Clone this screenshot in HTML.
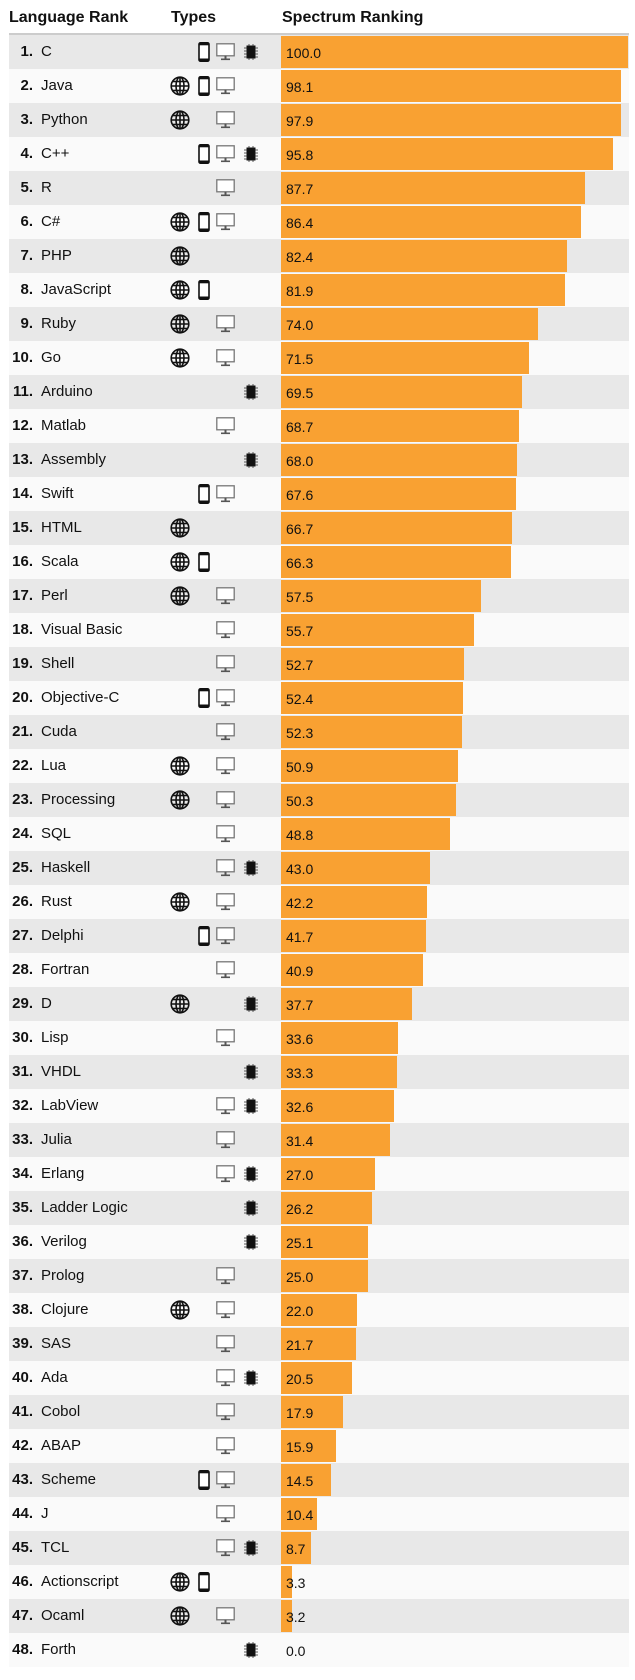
<!DOCTYPE html>
<html><head><meta charset="utf-8"><style>
body{margin:0;width:635px;height:1680px;background:#fff;font-family:"Liberation Sans",Arial,sans-serif;position:relative;overflow:hidden}
.h{position:absolute;top:9px;font-weight:bold;font-size:16px;color:#111}
.hl{position:absolute;left:9px;top:33px;width:620px;height:2px;background:#ccc}
#t{position:absolute;left:9px;top:35px;width:620px}
.r{position:relative;height:34px;background:#fafafa;font-size:15px;color:#111;line-height:34px}
.r:nth-child(odd){background:#e8e8e8}
.r b{position:absolute;right:596px;top:0}
.n{position:absolute;left:32px;top:0}
.bar{position:absolute;left:272px;top:1px;height:32px;background:#f9a132}
.v{position:absolute;left:277px;top:1px;font-size:14px}
svg.i{position:absolute}
.g{left:161px;top:7px}.p{left:189px;top:7px}.d{left:207px;top:8px}.c{left:235px;top:9px}
</style></head><body>
<svg width="0" height="0" style="position:absolute"><defs>
<symbol id="G" viewBox="0 0 20 20"><g fill="none" stroke="#111" stroke-width="1.6"><circle cx="10" cy="10" r="8.8"/><ellipse cx="10" cy="10" rx="4" ry="8.8"/><line x1="10" y1="1" x2="10" y2="19"/><line x1="1" y1="10" x2="19" y2="10"/><line x1="2.5" y1="5.5" x2="17.5" y2="5.5"/><line x1="2.5" y1="14.5" x2="17.5" y2="14.5"/></g></symbol>
<symbol id="P" viewBox="0 0 12 20"><rect x="1" y="0.8" width="10" height="18.4" rx="1.5" fill="#fff" stroke="#111" stroke-width="1.6"/><rect x="1" y="0.8" width="10" height="2.5" fill="#111"/><rect x="1" y="16.5" width="10" height="2.7" fill="#111"/></symbol>
<symbol id="D" viewBox="0 0 19 18"><rect x="0.8" y="0.8" width="17.4" height="12" fill="#fff" stroke="#777" stroke-width="1.3"/><rect x="8.5" y="12.8" width="2" height="3" fill="#555"/><rect x="5" y="15.5" width="9" height="1.6" fill="#555"/></symbol>
<symbol id="C" viewBox="0 0 14 16"><rect x="2.5" y="1.5" width="9" height="13" fill="#111"/><g stroke="#333" stroke-width="0.8"><line x1="0" y1="4" x2="14" y2="4"/><line x1="0" y1="7" x2="14" y2="7"/><line x1="0" y1="10" x2="14" y2="10"/><line x1="0" y1="13" x2="14" y2="13"/><line x1="5" y1="0" x2="5" y2="16"/><line x1="9" y1="0" x2="9" y2="16"/></g><rect x="3.3" y="2.3" width="7.4" height="11.4" fill="#111"/></symbol>
</defs></svg>
<div class="h" style="left:9px">Language Rank</div>
<div class="h" style="left:171px">Types</div>
<div class="h" style="left:282px">Spectrum Ranking</div>
<div class="hl"></div>
<div id="t">
<div class="r"><b>1.</b><span class="n">C</span><svg class="i p" width="12" height="20"><use href="#P"/></svg><svg class="i d" width="19" height="18"><use href="#D"/></svg><svg class="i c" width="14" height="16"><use href="#C"/></svg><i class="bar" style="width:347px"></i><span class="v">100.0</span></div>
<div class="r"><b>2.</b><span class="n">Java</span><svg class="i g" width="20" height="20"><use href="#G"/></svg><svg class="i p" width="12" height="20"><use href="#P"/></svg><svg class="i d" width="19" height="18"><use href="#D"/></svg><i class="bar" style="width:340px"></i><span class="v">98.1</span></div>
<div class="r"><b>3.</b><span class="n">Python</span><svg class="i g" width="20" height="20"><use href="#G"/></svg><svg class="i d" width="19" height="18"><use href="#D"/></svg><i class="bar" style="width:340px"></i><span class="v">97.9</span></div>
<div class="r"><b>4.</b><span class="n">C++</span><svg class="i p" width="12" height="20"><use href="#P"/></svg><svg class="i d" width="19" height="18"><use href="#D"/></svg><svg class="i c" width="14" height="16"><use href="#C"/></svg><i class="bar" style="width:332px"></i><span class="v">95.8</span></div>
<div class="r"><b>5.</b><span class="n">R</span><svg class="i d" width="19" height="18"><use href="#D"/></svg><i class="bar" style="width:304px"></i><span class="v">87.7</span></div>
<div class="r"><b>6.</b><span class="n">C#</span><svg class="i g" width="20" height="20"><use href="#G"/></svg><svg class="i p" width="12" height="20"><use href="#P"/></svg><svg class="i d" width="19" height="18"><use href="#D"/></svg><i class="bar" style="width:300px"></i><span class="v">86.4</span></div>
<div class="r"><b>7.</b><span class="n">PHP</span><svg class="i g" width="20" height="20"><use href="#G"/></svg><i class="bar" style="width:286px"></i><span class="v">82.4</span></div>
<div class="r"><b>8.</b><span class="n">JavaScript</span><svg class="i g" width="20" height="20"><use href="#G"/></svg><svg class="i p" width="12" height="20"><use href="#P"/></svg><i class="bar" style="width:284px"></i><span class="v">81.9</span></div>
<div class="r"><b>9.</b><span class="n">Ruby</span><svg class="i g" width="20" height="20"><use href="#G"/></svg><svg class="i d" width="19" height="18"><use href="#D"/></svg><i class="bar" style="width:257px"></i><span class="v">74.0</span></div>
<div class="r"><b>10.</b><span class="n">Go</span><svg class="i g" width="20" height="20"><use href="#G"/></svg><svg class="i d" width="19" height="18"><use href="#D"/></svg><i class="bar" style="width:248px"></i><span class="v">71.5</span></div>
<div class="r"><b>11.</b><span class="n">Arduino</span><svg class="i c" width="14" height="16"><use href="#C"/></svg><i class="bar" style="width:241px"></i><span class="v">69.5</span></div>
<div class="r"><b>12.</b><span class="n">Matlab</span><svg class="i d" width="19" height="18"><use href="#D"/></svg><i class="bar" style="width:238px"></i><span class="v">68.7</span></div>
<div class="r"><b>13.</b><span class="n">Assembly</span><svg class="i c" width="14" height="16"><use href="#C"/></svg><i class="bar" style="width:236px"></i><span class="v">68.0</span></div>
<div class="r"><b>14.</b><span class="n">Swift</span><svg class="i p" width="12" height="20"><use href="#P"/></svg><svg class="i d" width="19" height="18"><use href="#D"/></svg><i class="bar" style="width:235px"></i><span class="v">67.6</span></div>
<div class="r"><b>15.</b><span class="n">HTML</span><svg class="i g" width="20" height="20"><use href="#G"/></svg><i class="bar" style="width:231px"></i><span class="v">66.7</span></div>
<div class="r"><b>16.</b><span class="n">Scala</span><svg class="i g" width="20" height="20"><use href="#G"/></svg><svg class="i p" width="12" height="20"><use href="#P"/></svg><i class="bar" style="width:230px"></i><span class="v">66.3</span></div>
<div class="r"><b>17.</b><span class="n">Perl</span><svg class="i g" width="20" height="20"><use href="#G"/></svg><svg class="i d" width="19" height="18"><use href="#D"/></svg><i class="bar" style="width:200px"></i><span class="v">57.5</span></div>
<div class="r"><b>18.</b><span class="n">Visual Basic</span><svg class="i d" width="19" height="18"><use href="#D"/></svg><i class="bar" style="width:193px"></i><span class="v">55.7</span></div>
<div class="r"><b>19.</b><span class="n">Shell</span><svg class="i d" width="19" height="18"><use href="#D"/></svg><i class="bar" style="width:183px"></i><span class="v">52.7</span></div>
<div class="r"><b>20.</b><span class="n">Objective-C</span><svg class="i p" width="12" height="20"><use href="#P"/></svg><svg class="i d" width="19" height="18"><use href="#D"/></svg><i class="bar" style="width:182px"></i><span class="v">52.4</span></div>
<div class="r"><b>21.</b><span class="n">Cuda</span><svg class="i d" width="19" height="18"><use href="#D"/></svg><i class="bar" style="width:181px"></i><span class="v">52.3</span></div>
<div class="r"><b>22.</b><span class="n">Lua</span><svg class="i g" width="20" height="20"><use href="#G"/></svg><svg class="i d" width="19" height="18"><use href="#D"/></svg><i class="bar" style="width:177px"></i><span class="v">50.9</span></div>
<div class="r"><b>23.</b><span class="n">Processing</span><svg class="i g" width="20" height="20"><use href="#G"/></svg><svg class="i d" width="19" height="18"><use href="#D"/></svg><i class="bar" style="width:175px"></i><span class="v">50.3</span></div>
<div class="r"><b>24.</b><span class="n">SQL</span><svg class="i d" width="19" height="18"><use href="#D"/></svg><i class="bar" style="width:169px"></i><span class="v">48.8</span></div>
<div class="r"><b>25.</b><span class="n">Haskell</span><svg class="i d" width="19" height="18"><use href="#D"/></svg><svg class="i c" width="14" height="16"><use href="#C"/></svg><i class="bar" style="width:149px"></i><span class="v">43.0</span></div>
<div class="r"><b>26.</b><span class="n">Rust</span><svg class="i g" width="20" height="20"><use href="#G"/></svg><svg class="i d" width="19" height="18"><use href="#D"/></svg><i class="bar" style="width:146px"></i><span class="v">42.2</span></div>
<div class="r"><b>27.</b><span class="n">Delphi</span><svg class="i p" width="12" height="20"><use href="#P"/></svg><svg class="i d" width="19" height="18"><use href="#D"/></svg><i class="bar" style="width:145px"></i><span class="v">41.7</span></div>
<div class="r"><b>28.</b><span class="n">Fortran</span><svg class="i d" width="19" height="18"><use href="#D"/></svg><i class="bar" style="width:142px"></i><span class="v">40.9</span></div>
<div class="r"><b>29.</b><span class="n">D</span><svg class="i g" width="20" height="20"><use href="#G"/></svg><svg class="i c" width="14" height="16"><use href="#C"/></svg><i class="bar" style="width:131px"></i><span class="v">37.7</span></div>
<div class="r"><b>30.</b><span class="n">Lisp</span><svg class="i d" width="19" height="18"><use href="#D"/></svg><i class="bar" style="width:117px"></i><span class="v">33.6</span></div>
<div class="r"><b>31.</b><span class="n">VHDL</span><svg class="i c" width="14" height="16"><use href="#C"/></svg><i class="bar" style="width:116px"></i><span class="v">33.3</span></div>
<div class="r"><b>32.</b><span class="n">LabView</span><svg class="i d" width="19" height="18"><use href="#D"/></svg><svg class="i c" width="14" height="16"><use href="#C"/></svg><i class="bar" style="width:113px"></i><span class="v">32.6</span></div>
<div class="r"><b>33.</b><span class="n">Julia</span><svg class="i d" width="19" height="18"><use href="#D"/></svg><i class="bar" style="width:109px"></i><span class="v">31.4</span></div>
<div class="r"><b>34.</b><span class="n">Erlang</span><svg class="i d" width="19" height="18"><use href="#D"/></svg><svg class="i c" width="14" height="16"><use href="#C"/></svg><i class="bar" style="width:94px"></i><span class="v">27.0</span></div>
<div class="r"><b>35.</b><span class="n">Ladder Logic</span><svg class="i c" width="14" height="16"><use href="#C"/></svg><i class="bar" style="width:91px"></i><span class="v">26.2</span></div>
<div class="r"><b>36.</b><span class="n">Verilog</span><svg class="i c" width="14" height="16"><use href="#C"/></svg><i class="bar" style="width:87px"></i><span class="v">25.1</span></div>
<div class="r"><b>37.</b><span class="n">Prolog</span><svg class="i d" width="19" height="18"><use href="#D"/></svg><i class="bar" style="width:87px"></i><span class="v">25.0</span></div>
<div class="r"><b>38.</b><span class="n">Clojure</span><svg class="i g" width="20" height="20"><use href="#G"/></svg><svg class="i d" width="19" height="18"><use href="#D"/></svg><i class="bar" style="width:76px"></i><span class="v">22.0</span></div>
<div class="r"><b>39.</b><span class="n">SAS</span><svg class="i d" width="19" height="18"><use href="#D"/></svg><i class="bar" style="width:75px"></i><span class="v">21.7</span></div>
<div class="r"><b>40.</b><span class="n">Ada</span><svg class="i d" width="19" height="18"><use href="#D"/></svg><svg class="i c" width="14" height="16"><use href="#C"/></svg><i class="bar" style="width:71px"></i><span class="v">20.5</span></div>
<div class="r"><b>41.</b><span class="n">Cobol</span><svg class="i d" width="19" height="18"><use href="#D"/></svg><i class="bar" style="width:62px"></i><span class="v">17.9</span></div>
<div class="r"><b>42.</b><span class="n">ABAP</span><svg class="i d" width="19" height="18"><use href="#D"/></svg><i class="bar" style="width:55px"></i><span class="v">15.9</span></div>
<div class="r"><b>43.</b><span class="n">Scheme</span><svg class="i p" width="12" height="20"><use href="#P"/></svg><svg class="i d" width="19" height="18"><use href="#D"/></svg><i class="bar" style="width:50px"></i><span class="v">14.5</span></div>
<div class="r"><b>44.</b><span class="n">J</span><svg class="i d" width="19" height="18"><use href="#D"/></svg><i class="bar" style="width:36px"></i><span class="v">10.4</span></div>
<div class="r"><b>45.</b><span class="n">TCL</span><svg class="i d" width="19" height="18"><use href="#D"/></svg><svg class="i c" width="14" height="16"><use href="#C"/></svg><i class="bar" style="width:30px"></i><span class="v">8.7</span></div>
<div class="r"><b>46.</b><span class="n">Actionscript</span><svg class="i g" width="20" height="20"><use href="#G"/></svg><svg class="i p" width="12" height="20"><use href="#P"/></svg><i class="bar" style="width:11px"></i><span class="v">3.3</span></div>
<div class="r"><b>47.</b><span class="n">Ocaml</span><svg class="i g" width="20" height="20"><use href="#G"/></svg><svg class="i d" width="19" height="18"><use href="#D"/></svg><i class="bar" style="width:11px"></i><span class="v">3.2</span></div>
<div class="r"><b>48.</b><span class="n">Forth</span><svg class="i c" width="14" height="16"><use href="#C"/></svg><span class="v">0.0</span></div>
</div>
</body></html>
